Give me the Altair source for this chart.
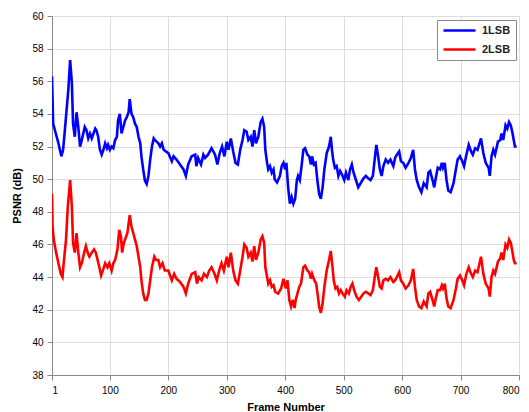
import altair as alt
import pandas as pd

# ---- data ----
series_names = ["1LSB", "2LSB"]
series_colors = ["#0000FF", "#FF0000"]
x_ticks = [1, 100, 200, 300, 400, 500, 600, 700, 800]
y_ticks = [38, 40, 42, 44, 46, 48, 50, 52, 54, 56, 58, 60]

frames_1lsb = [
    1, 3, 6, 12, 17, 20, 23, 29, 32, 35, 37, 40, 43, 46, 49, 52, 57, 60, 63, 66,
    69, 75, 77, 80, 83, 86, 89, 92, 95, 97, 100, 103, 106, 109, 112, 114, 117, 120, 123, 126,
    129, 132, 134, 137, 140, 143, 146, 149, 152, 154, 157, 160, 163, 166, 169, 172, 175, 177, 180, 183,
    186, 189, 192,
    200, 206, 209, 214, 220, 226, 230, 234, 240, 246, 248, 251, 256, 260, 263, 268, 274, 280, 284, 288,
    292, 296, 300, 303, 307, 311, 315, 319, 323, 327, 330, 334, 337, 341, 344, 347, 350, 354, 358, 361,
    364, 366, 369, 371, 374, 377, 380, 382, 386, 391,
    394, 397, 400, 402, 405, 408, 411, 414, 417, 420, 422, 425, 428, 431, 434, 438, 441, 444, 446, 449,
    452, 455, 458, 461, 464, 467, 471, 475, 478, 480, 482, 485, 488, 491, 494, 497, 501, 504, 508, 511,
    514, 517, 521, 525, 529, 534, 538, 542, 546, 550, 554, 556, 559, 562, 565, 568, 572, 576, 580, 585,
    588, 591, 595, 598, 602, 606, 611, 615, 619, 622, 625, 629, 633, 637, 642, 645, 648, 652, 655, 657,
    661, 665, 668, 670, 673, 676, 679, 683, 688, 692, 695, 699, 703, 706, 710, 714, 718, 721, 725, 729,
    735, 739, 743, 748, 750, 753, 756, 759, 764, 768, 770, 773, 777, 780, 783, 786, 789, 791, 793, 796,
]
psnr_1lsb = [
    56.3, 53.4, 53.0, 52.2, 51.4, 51.8, 53.0, 55.5, 57.3, 55.9, 53.4, 52.6, 54.1, 53.2, 52.0, 52.4, 53.2, 53.0, 52.5, 52.8,
    52.5, 53.1, 53.0, 52.6, 51.8, 51.5, 51.8, 52.2, 51.9, 52.1, 51.8, 52.0, 51.9, 52.4, 52.6, 53.6, 54.0, 52.8, 53.2, 53.6,
    53.8, 54.1, 54.9, 54.0, 53.8, 53.4, 53.2, 52.6, 52.2, 51.4, 50.6, 49.9, 49.7, 50.2, 51.2, 52.0, 52.5, 52.4, 52.3, 52.2,
    52.0, 52.2, 51.8,
    51.6, 51.1, 51.4, 51.2, 50.9, 50.6, 50.2, 50.9, 51.4, 51.5, 50.8, 51.3, 50.9, 51.5, 51.3, 51.5, 51.9, 51.5, 50.9, 51.6,
    52.0, 51.4, 52.3, 51.8, 52.5, 51.7, 51.0, 50.9, 51.8, 52.4, 53.0, 52.9, 52.4, 52.6, 52.0, 53.0, 52.2, 52.6, 53.5, 53.7,
    53.2, 51.8, 51.0, 50.6, 50.8, 50.4, 50.6, 50.0, 49.8, 50.2,
    50.8, 51.0, 50.6, 51.0, 49.5, 48.5, 48.9, 48.5, 48.8, 49.95, 50.2, 49.95, 50.8, 51.8, 51.9, 51.5, 51.4, 50.9, 51.4, 50.9,
    51.0, 49.95, 49.1, 48.8, 49.5, 50.6, 51.6, 52.0, 52.6, 51.8, 51.2, 50.7, 50.8, 50.2, 50.5, 50.3, 49.95, 50.4, 49.95, 50.6,
    50.9, 50.4, 49.95, 49.5, 49.75, 50.05, 50.2, 50.05, 49.95, 50.2, 51.5, 52.1, 51.4, 50.6, 50.2, 50.8, 51.2, 51.0, 51.2, 50.8,
    51.3, 51.5, 51.7, 51.1, 51.0, 50.7, 51.0, 51.3, 51.8, 50.6, 49.95, 49.5, 49.2, 49.75, 49.5, 50.4, 50.5, 49.95, 49.5, 49.95,
    50.7, 50.6, 51.0, 50.7, 51.0, 49.95, 49.3, 49.2, 49.75, 50.6, 51.2, 51.4, 51.1, 50.8, 51.5, 52.1, 51.7, 51.5, 51.9, 51.8,
    52.5, 51.6, 51.0, 50.7, 50.2, 51.4, 51.8, 51.5, 52.3, 52.4, 52.8, 52.4, 53.3, 53.1, 53.5, 53.3, 52.8, 52.4, 52.0, 52.0,
]

frames_2lsb = [
    1, 2, 4, 8, 12, 16, 19, 21, 25, 28, 32, 35, 37, 40, 43, 46, 49, 52, 56, 59,
    62, 65, 69, 73, 76, 79, 82, 85, 88, 92, 96, 99, 103, 106, 109, 113, 116, 119, 121, 124,
    128, 130, 134, 137, 140, 143, 146, 149, 152, 154, 157, 160, 163, 166, 169, 172, 176, 179, 183, 186,
    190,
    194, 200, 206, 210, 214, 220, 226, 230, 234, 240, 246, 249, 252, 257, 261, 266, 270, 274, 279, 283,
    287, 291, 295, 300, 303, 307, 311, 315, 319, 323, 327, 330, 334, 337, 341, 344, 347, 350, 354, 358,
    361, 364, 366, 369, 371, 374, 377, 380, 383, 388, 393, 397,
    401, 404, 407, 410, 413, 416, 418, 421, 424, 427, 431, 434, 438, 441, 444, 446, 450, 453, 456, 458,
    461, 464, 467, 471, 475, 478, 481, 483, 486, 489, 492, 495, 498, 502, 505, 509, 512, 515, 518, 522,
    526, 530, 534, 538, 542, 546, 550, 554, 556, 559, 562, 565, 568, 572, 576, 580, 585,
    588, 591, 595, 598, 602, 606, 611, 615, 619, 622, 625, 629, 633, 637, 642, 645, 648, 652, 655, 657,
    661, 665, 668, 670, 673, 676, 679, 683, 688, 692, 695, 699, 703, 706, 710, 714, 718, 721, 725, 729,
    735, 739, 743, 748, 750, 753, 756, 759, 764, 768, 770, 773, 777, 780, 783, 786, 789, 791, 793, 796,
]
psnr_2lsb = [
    49.1, 47.1, 46.3, 45.5, 44.85, 44.2, 44.0, 44.85, 46.3, 48.3, 49.95, 48.3, 46.1, 45.5, 46.7, 45.5, 44.6, 44.85, 45.5, 45.9,
    45.5, 45.25, 45.5, 45.7, 45.5, 45.05, 44.6, 44.1, 44.4, 44.85, 44.6, 44.85, 44.4, 44.85, 45.05, 45.7, 46.9, 46.5, 45.5, 46.1,
    46.5, 46.7, 47.8, 47.1, 46.7, 46.3, 45.9, 45.25, 44.6, 43.8, 43.0, 42.6, 42.6, 43.0, 43.8, 44.6, 45.25, 45.05, 45.05, 44.6,
    44.85,
    44.4, 44.4, 43.8, 44.2, 43.9, 43.7, 43.4, 43.0, 43.6, 44.2, 44.3, 43.6, 44.0, 43.8, 44.2, 44.0, 44.4, 44.6, 44.2, 43.8,
    44.4, 44.85, 44.4, 45.25, 44.6, 45.5, 44.4, 43.8, 43.6, 44.4, 45.25, 46.0, 45.8, 45.25, 45.5, 44.95, 45.9, 45.05, 45.5, 46.3,
    46.5, 46.1, 44.6, 44.0, 43.6, 43.8, 43.4, 43.5, 43.1, 43.0, 43.3, 43.9,
    43.3, 43.8, 42.6, 42.2, 42.6, 42.1, 42.6, 43.0, 43.4, 43.6, 44.6, 44.7, 44.4, 44.3, 43.9, 44.2, 43.8, 43.6, 42.8, 42.2,
    41.8, 42.4, 43.4, 44.4, 45.05, 45.6, 44.6, 43.8, 43.3, 43.4, 43.0, 43.2, 43.0, 42.8, 43.2, 43.0, 43.4, 43.6, 43.2, 42.8,
    42.6, 42.8, 43.0, 43.1, 43.0, 42.9, 43.2, 44.2, 44.6, 44.0, 43.4, 43.3, 43.8, 43.9, 43.8, 44.0, 43.7,
    43.8, 44.0, 44.3, 43.8, 43.6, 43.3, 43.5, 43.8, 44.5, 43.4, 42.6, 42.2, 42.1, 42.5, 42.2, 43.0, 43.1, 42.6, 42.2, 42.6,
    43.2, 43.2, 43.5, 43.3, 43.6, 42.7, 42.2, 42.1, 42.6, 43.3, 43.9, 44.1, 43.8, 43.5, 44.2, 44.6, 44.2, 44.0, 44.4, 44.3,
    45.25, 44.2, 43.6, 43.3, 42.8, 44.0, 44.4, 44.2, 44.95, 45.15, 45.5, 45.05, 46.0, 45.8, 46.3, 46.1, 45.5, 45.05, 44.85, 44.85,
]

df = pd.concat([
    pd.DataFrame({"frame": frames_1lsb, "psnr": psnr_1lsb, "series": series_names[0]}),
    pd.DataFrame({"frame": frames_2lsb, "psnr": psnr_2lsb, "series": series_names[1]}),
], ignore_index=True)

FONT = "Liberation Sans"

chart = alt.Chart(df).mark_line(strokeWidth=2.6, clip=True).encode(
    x=alt.X("frame:Q",
            scale=alt.Scale(domain=[1, 800], nice=False, zero=False),
            axis=alt.Axis(values=x_ticks, format="d", title="Frame Number",
                          labelPadding=5, titlePadding=6)),
    y=alt.Y("psnr:Q",
            scale=alt.Scale(domain=[38, 60], nice=False, zero=False),
            axis=alt.Axis(values=y_ticks, format="d", title="PSNR (dB)",
                          labelPadding=4, titlePadding=9)),
    color=alt.Color("series:N",
                    scale=alt.Scale(domain=series_names, range=series_colors),
                    legend=alt.Legend(title=None, orient="none", legendX=385, legendY=4,
                                      symbolType="M-1,0H7", symbolSize=64,
                                      symbolStrokeWidth=2.6, labelFont=FONT,
                                      labelFontSize=11, labelFontWeight="bold",
                                      labelColor="#222222", labelOffset=29,
                                      padding=5, rowPadding=7,
                                      strokeColor="#8a8a8a", fillColor="#ffffff")),
).properties(
    width=467, height=359,
    padding={"left": 44, "top": 8, "right": 2, "bottom": 37},
    autosize=alt.AutoSizeParams(type="none"),
).configure_view(
    stroke="#8a8a8a", strokeWidth=1.8
).configure_axis(
    domain=False, ticks=False, tickSize=0,
    grid=True, gridColor="#8c8c8c", gridDash=[1.5, 2.5], gridWidth=1, gridOpacity=1,
    labelFont=FONT, labelFontSize=11, labelFontWeight="bold", labelColor="#222222",
    titleFont=FONT, titleFontSize=11.5, titleFontWeight="bold", titleColor="#222222",
).configure(background="#ffffff")

chart.save("out.html", embed_options={"renderer": "svg", "actions": False})
